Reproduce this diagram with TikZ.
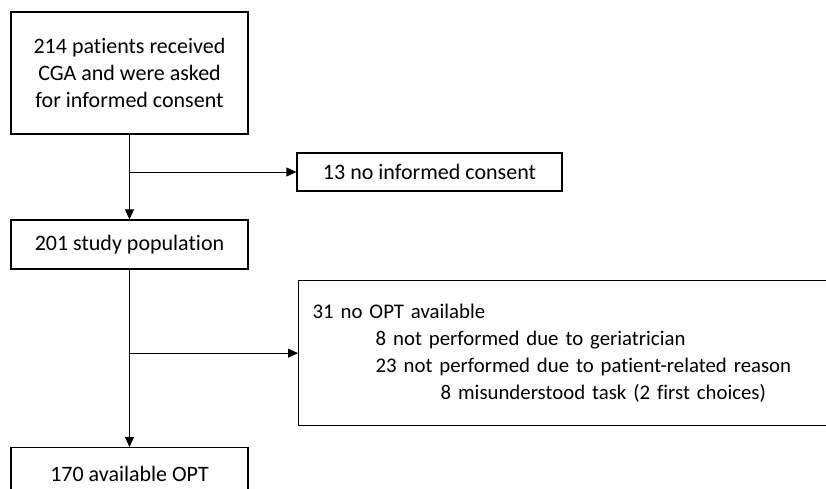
\documentclass[tikz,border=0pt]{standalone}
\usepackage{fontspec}
\setmainfont{Carlito}[Ligatures=NoCommon]
\usetikzlibrary{arrows.meta,calc}

\begin{document}
\begin{tikzpicture}[x=1pt,y=-1pt]
  \useasboundingbox (0,0) rectangle (826,489);
  \begin{scope}[
    every node/.style={
      draw,
      line width=1.3pt,
      inner sep=0pt,
      font=\fontsize{22}{27}\selectfont,
    },
    ]
    \node[minimum width=237pt, minimum height=122pt, align=center]
      (consent) at (129.5,73)
      {214 patients received\\CGA and were asked\\for informed consent};
    \node[minimum width=265pt, minimum height=38pt]
      (noconsent) at (429.5,172) {13 no informed consent};
    \node[minimum width=237pt, minimum height=49pt]
      (study) at (129.5,244.5) {201 study population};
    \node[anchor=north west, minimum width=545pt, minimum height=145pt,
      text width=517pt, inner xsep=14pt, align=left,
      font=\fontsize{20.8}{27}\selectfont]
      (noopt) at (298,280)
      {31 no OPT available\\
       \hspace*{63pt}8 not performed due to geriatrician\\
       \hspace*{63pt}23 not performed due to patient-related reason\\
       \hspace*{128pt}8 misunderstood task (2 first choices)};
    \node[anchor=north, minimum width=237pt, minimum height=52pt]
      (available) at (129.5,447) {170 available OPT};
  \end{scope}
  \coordinate (split1) at (consent.south |- noconsent.west);
  \coordinate (split2) at (study.south |- noopt.west);
  \begin{scope}[
    every edge/.style={draw,line width=0.9pt,
      -{Triangle[length=10pt,width=9pt]}},
    ]
    \path
    (consent) edge (study)
    (split1)  edge (noconsent)
    (study)   edge (available)
    (split2)  edge (noopt);
  \end{scope}
\end{tikzpicture}
\end{document}
